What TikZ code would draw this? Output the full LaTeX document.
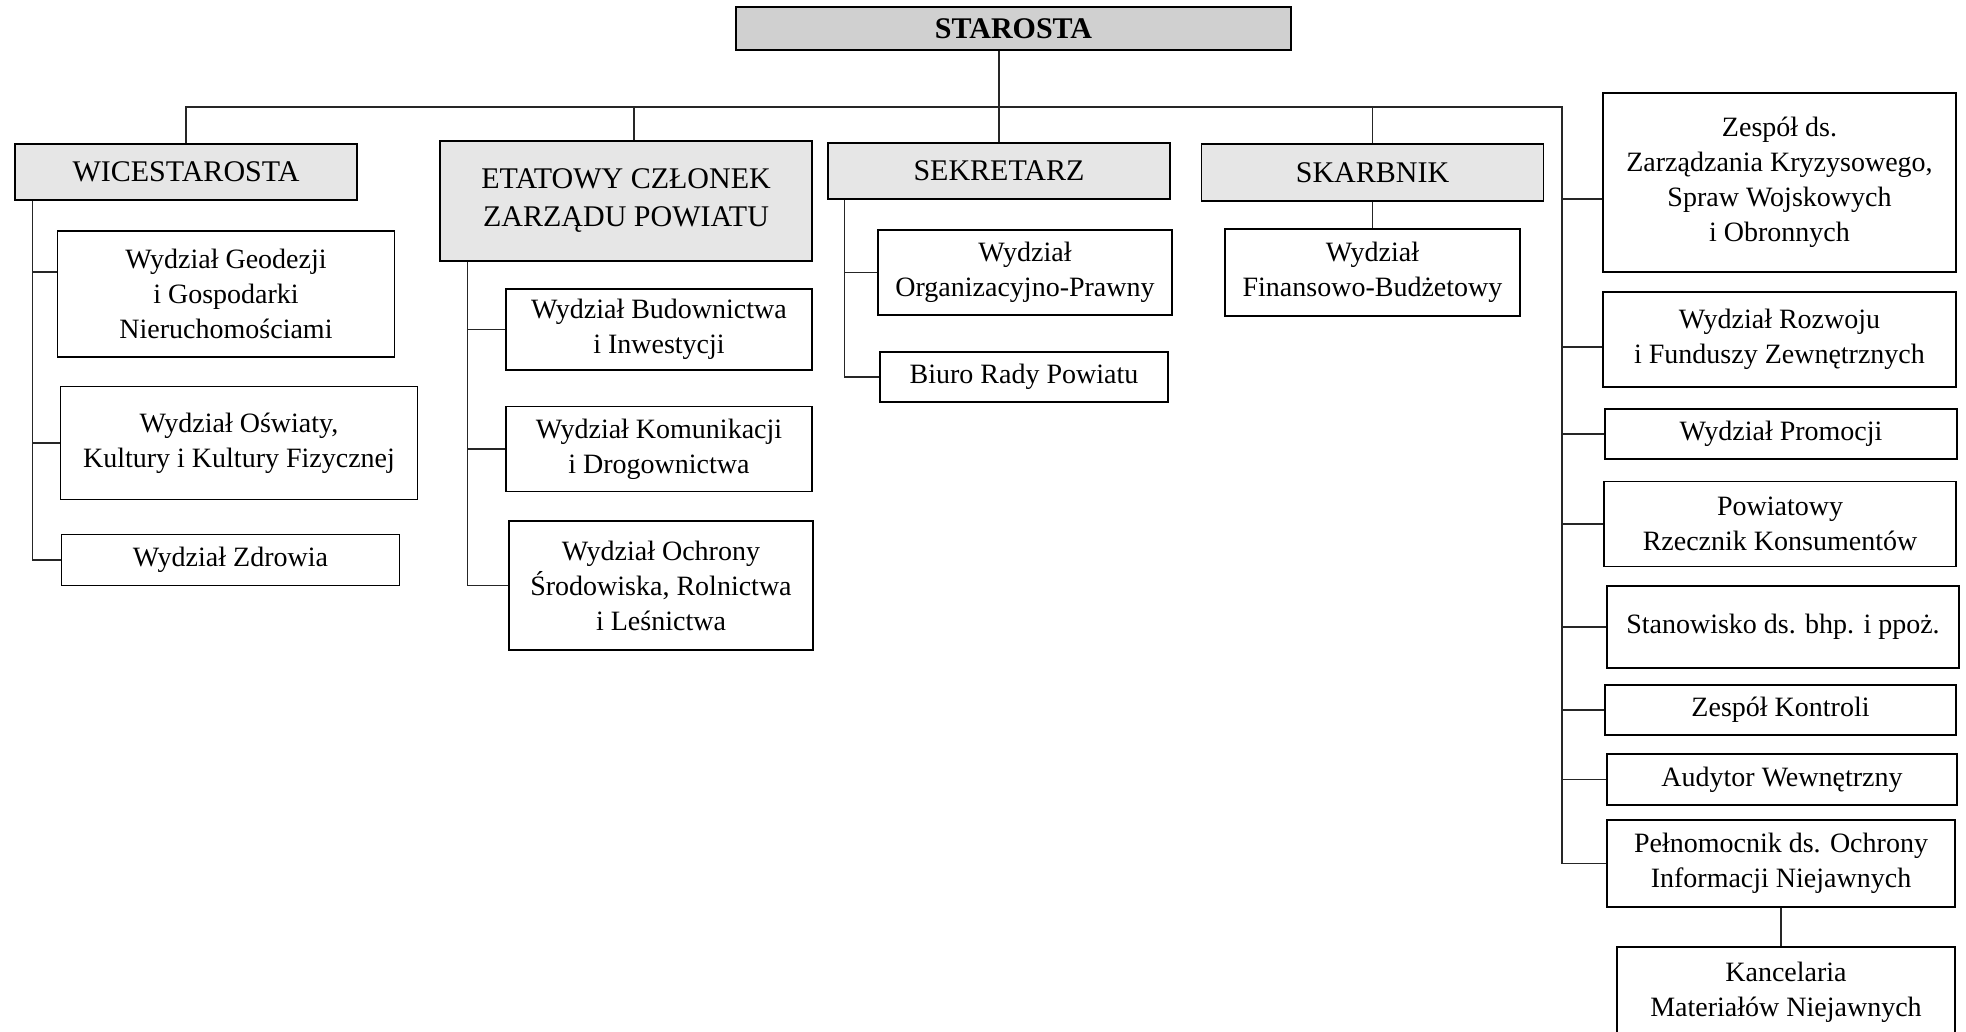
\documentclass[tikz,border=0pt]{standalone}
\usepackage{fontspec}
\setmainfont{Liberation Serif}
\definecolor{topgray}{RGB}{208,208,208}
\definecolor{headgray}{RGB}{230,230,230}
\newcommand{\headfont}{\fontsize{15pt}{19pt}\selectfont}
\newcommand{\unitfont}{\fontsize{14pt}{17.5pt}\selectfont}

\begin{document}
\begin{tikzpicture}[x=0.5pt, y=-0.5pt]
  \tikzstyle{head} = [rectangle, draw=black, line width=0.65pt, fill=headgray, align=center, inner sep=0pt, font=\headfont]
  \tikzstyle{unit} = [rectangle, draw=black, line width=0.65pt, fill=white, align=center, inner sep=0pt, font=\unitfont]
  \tikzstyle{link} = [draw=black!85, line width=0.65pt]

  \useasboundingbox (0,0) rectangle (1966,1032);
  \clip (0,0) rectangle (1966,1032);

  % top level
  \node (starosta) [head, fill=topgray, font=\headfont\bfseries, minimum width=277.5pt, minimum height=21.5pt] at (1013.5,28.5) {STAROSTA};

  \node (wice) [head, minimum width=171pt, minimum height=28pt] at (186,172) {WICESTAROSTA};
  \node (etat) [head, minimum width=186pt, minimum height=60pt] at (626,201) {ETATOWY CZŁONEK\\ZARZĄDU POWIATU};
  \node (sekr) [head, minimum width=171pt, minimum height=28pt] at (999,171) {SEKRETARZ};
  \node (skarb) [head, minimum width=171pt, minimum height=28.5pt] at (1372.5,172.5) {SKARBNIK};

  % wicestarosta
  \node (geod) [unit, minimum width=168.75pt, minimum height=63pt] at (226,294) {Wydział Geodezji\\i Gospodarki\\Nieruchomościami};
  \node (oswiat) [unit, minimum width=178.25pt, minimum height=56.25pt] at (239,443) {Wydział Oświaty,\\Kultury i Kultury Fizycznej};
  \node (zdrow) [unit, minimum width=169pt, minimum height=25.75pt] at (230.5,560) {Wydział Zdrowia};

  % etatowy czlonek
  \node (budow) [unit, minimum width=153pt, minimum height=40.5pt] at (659,329.5) {Wydział Budownictwa\\i Inwestycji};
  \node (komun) [unit, minimum width=153pt, minimum height=42.75pt] at (659,449) {Wydział Komunikacji\\i Drogownictwa};
  \node (ochr) [unit, minimum width=152pt, minimum height=64.5pt] at (661,585.5) {Wydział Ochrony\\Środowiska, Rolnictwa\\i Leśnictwa};

  % sekretarz, skarbnik
  \node (orgpr) [unit, minimum width=147pt, minimum height=42.5pt] at (1025,272.5) {Wydział\\Organizacyjno-Prawny};
  \node (biuro) [unit, minimum width=144pt, minimum height=25pt] at (1024,377) {Biuro Rady Powiatu};
  \node (finans) [unit, minimum width=147.5pt, minimum height=43.5pt] at (1372.5,272.5) {Wydział\\Finansowo-Budżetowy};

  % right column
  \node (zesp) [unit, minimum width=176.5pt, minimum height=89.5pt] at (1779.5,182.5) {Zespół ds.\\Zarządzania Kryzysowego,\\Spraw Wojskowych\\i Obronnych};
  \node (rozw) [unit, minimum width=176.5pt, minimum height=47.5pt] at (1779.5,339.5) {Wydział Rozwoju\\i Funduszy Zewnętrznych};
  \node (promo) [unit, minimum width=176pt, minimum height=25pt] at (1781,434) {Wydział Promocji};
  \node (rzecz) [unit, minimum width=176pt, minimum height=42.25pt] at (1780,524) {Powiatowy\\Rzecznik Konsumentów};
  \node (stan) [unit, minimum width=176pt, minimum height=41pt] at (1783,627) {Stanowisko ds. bhp. i ppoż.};
  \node (kontr) [unit, minimum width=175.5pt, minimum height=25pt] at (1780.5,710) {Zespół Kontroli};
  \node (audyt) [unit, minimum width=175pt, minimum height=25.5pt] at (1782,779.5) {Audytor Wewnętrzny};
  \node (peln) [unit, minimum width=174pt, minimum height=43.5pt] at (1781,863.5) {Pełnomocnik ds. Ochrony\\Informacji Niejawnych};
  \node (kanc) [unit, minimum width=169pt, minimum height=45pt] at (1786,992) {Kancelaria\\Materiałów Niejawnych};

  \coordinate (busR) at (1562,107);
  \coordinate (wspine) at ([xshift=9pt]wice.south west);
  \coordinate (espine) at ([xshift=14pt]etat.south west);
  \coordinate (sspine) at ([xshift=8.5pt]sekr.south west);

  % main bus
  \draw [link] (starosta.south -| sekr.north) -- (sekr.north);
  \draw [link] (wice.north) |- (busR) |- (peln.west);
  \draw [link] ([xshift=4pt]etat.north) -- ([xshift=4pt]etat.north |- busR);
  \draw [link] (skarb.north) -- (skarb.north |- busR);
  \draw [link] (skarb.south) -- (finans.north);
  \draw [link] (peln.south) -- (peln.south |- kanc.north);

  % branches
  \draw [link] (wspine) |- (zdrow.west);
  \draw [link] ([yshift=11pt]geod.west) -- ([yshift=11pt]geod.west -| wspine);
  \draw [link] (oswiat.west) -- (oswiat.west -| wspine);
  \draw [link] (espine) |- (ochr.west);
  \draw [link] (budow.west) -- (budow.west -| espine);
  \draw [link] (komun.west) -- (komun.west -| espine);
  \draw [link] (sspine) |- (biuro.west);
  \draw [link] (orgpr.west) -- (orgpr.west -| sspine);
  \draw [link] ([yshift=-8.25pt]zesp.west) -- ([yshift=-8.25pt]zesp.west -| busR);
  \draw [link] ([yshift=-3.75pt]rozw.west) -- ([yshift=-3.75pt]rozw.west -| busR);
  \foreach \n in {promo,rzecz,stan,kontr,audyt}
    \draw [link] (\n.west) -- (\n.west -| busR);
\end{tikzpicture}
\end{document}
